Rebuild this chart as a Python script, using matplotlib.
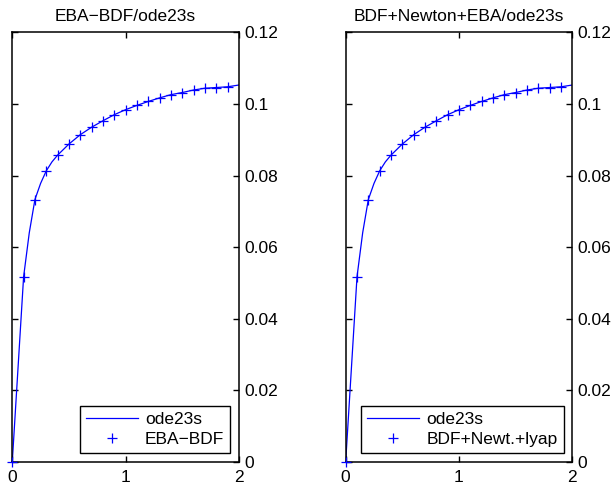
import numpy as np
import matplotlib
matplotlib.use("Agg")
import matplotlib.pyplot as plt

plt.rcParams['font.family'] = ['Liberation Sans', 'DejaVu Sans']

# ode23s reference solution (line)
t_ref = [0, 0.1, 0.15, 0.2, 0.25, 0.3, 0.35, 0.4, 0.5, 0.6, 0.7, 0.8, 0.9, 1.0,
         1.1, 1.2, 1.3, 1.4, 1.5, 1.6, 1.7, 1.8, 1.9, 2.0]
y_ref = [0, 0.0517, 0.0640, 0.0733, 0.0778, 0.0813, 0.0838, 0.0857, 0.0888, 0.0914,
         0.0935, 0.0953, 0.0970, 0.0984, 0.0996, 0.1007, 0.1017, 0.1026, 0.1032,
         0.1039, 0.1044, 0.1046, 0.1048, 0.1053]

# solver results (markers)
t_sol = [0, 0.1, 0.2, 0.3, 0.4, 0.5, 0.6, 0.7, 0.8, 0.9, 1.0,
         1.1, 1.2, 1.3, 1.4, 1.5, 1.6, 1.7, 1.8, 1.9]
y_sol = [0, 0.0517, 0.0733, 0.0813, 0.0857, 0.0888, 0.0914, 0.0935, 0.0953, 0.0970,
         0.0984, 0.0996, 0.1007, 0.1017, 0.1026, 0.1032, 0.1039, 0.1044, 0.1046, 0.1048]

titles = ["EBA\u2212BDF/ode23s", "BDF+Newton+EBA/ode23s"]
labels = ["EBA\u2212BDF", "BDF+Newt.+lyap"]
lefts = [0.020, 0.563]

fig = plt.figure(figsize=(6.14, 4.84), dpi=100)

for i in range(2):
    ax = fig.add_axes([lefts[i], 0.046, 0.369, 0.887])
    ax.plot(t_ref, y_ref, '-', color='blue', lw=0.9, label='ode23s')
    ax.plot(t_sol, y_sol, '+', color='blue', ms=7, mew=0.9, label=labels[i],
            clip_on=False, zorder=5)
    ax.set_xlim(0, 2)
    ax.set_ylim(0, 0.12)
    ax.set_xticks([0, 1, 2])
    ax.set_xticklabels(['0', '1', '2'])
    ax.set_yticks([0, 0.02, 0.04, 0.06, 0.08, 0.1, 0.12])
    ax.set_yticklabels(['0', '0.02', '0.04', '0.06', '0.08', '0.1', '0.12'])
    ax.yaxis.tick_right()
    ax.tick_params(direction='in', length=4, width=1, labelsize=12.5,
                   top=True, bottom=True, left=True, right=True,
                   labelleft=False, labelright=True)
    ax.tick_params(axis='x', pad=6)
    ax.tick_params(axis='y', pad=4)
    for s in ax.spines.values():
        s.set_linewidth(1.1)
    ax.set_title(titles[i], fontsize=12.5, pad=8)
    leg = ax.legend(loc='lower right', fontsize=12.5, fancybox=False,
                    edgecolor='black', framealpha=1, borderaxespad=0.5,
                    handlelength=3.0, handletextpad=0.4, borderpad=0.35,
                    labelspacing=0.25)
    leg.get_frame().set_linewidth(1.0)

fig.savefig('out.png', dpi=100)
